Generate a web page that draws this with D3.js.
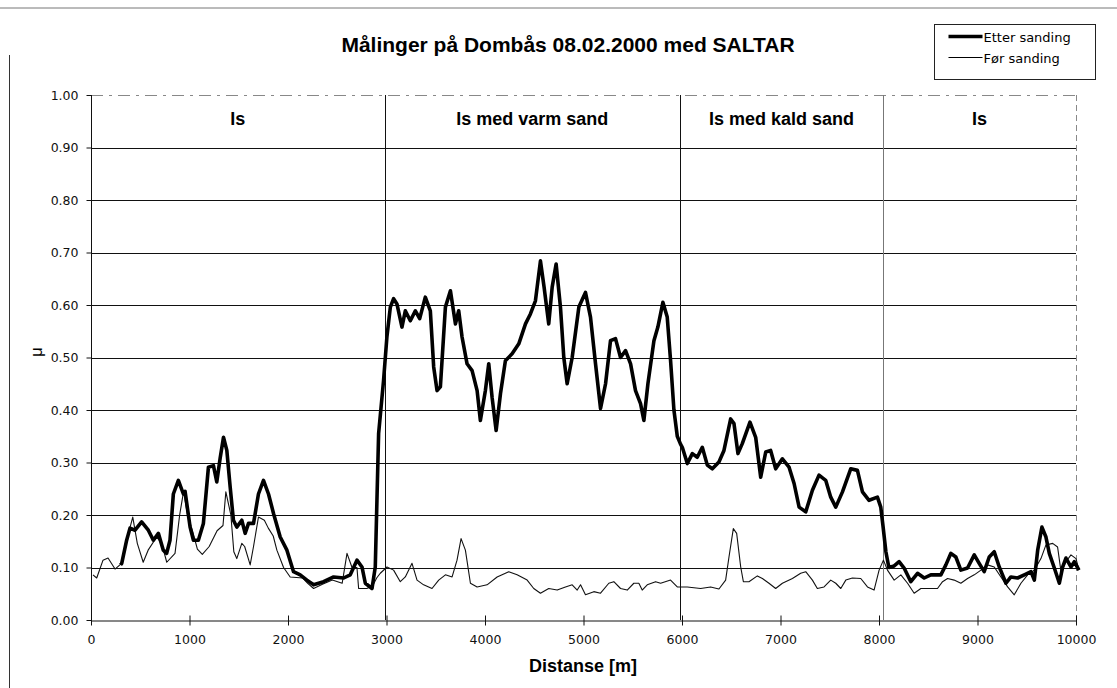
<!DOCTYPE html>
<html>
<head>
<meta charset="utf-8">
<script src="https://cdn.jsdelivr.net/npm/d3@7"></script>
<style>
  body { margin: 0; background: #fff; }
  svg { font-family: "Liberation Sans", Arial, sans-serif; }
</style>
</head>
<body>
<div id="chart"></div>
<script>
const WIDTH = 1117;
const HEIGHT = 688;

const title = "Målinger på Dombås 08.02.2000 med SALTAR";
const xLabel = "Distanse [m]";
const yLabel = "μ";
const seriesNames = ["Etter sanding", "Før sanding"];

const xTicks = [0, 1000, 2000, 3000, 4000, 5000, 6000, 7000, 8000, 9000, 10000];
const yTicks = [0, 0.1, 0.2, 0.3, 0.4, 0.5, 0.6, 0.7, 0.8, 0.9, 1.0];

// section boundaries (m) and their labels
const sectionEdges = [0, 2980, 5980, 8040, 10000];
const sectionLabels = ["Is", "Is med varm sand", "Is med kald sand", "Is"];

// Etter sanding (after sanding)
const etterDist = [300, 312, 362, 396, 447, 514, 582, 633, 684, 734, 768, 802, 836, 887, 938, 955, 1006, 1040, 1090, 1141,
  1192, 1243, 1277, 1311, 1345, 1379, 1413, 1446, 1480, 1531, 1565, 1599, 1650, 1700, 1751, 1802, 1853, 1921, 1989, 2056,
  2124, 2192, 2260, 2361, 2463, 2565, 2632, 2700, 2751, 2785, 2853, 2886, 2903, 2920, 2970, 3004, 3039, 3072, 3106, 3157,
  3191, 3242, 3293, 3337, 3394, 3445, 3479, 3513, 3547, 3598, 3649, 3700, 3733, 3767, 3818, 3869, 3920, 3953, 4004, 4038,
  4072, 4113, 4157, 4207, 4275, 4343, 4411, 4461, 4512, 4563, 4600, 4647, 4682, 4722, 4766, 4800, 4834, 4885, 4953, 5020,
  5071, 5122, 5173, 5224, 5274, 5325, 5376, 5427, 5478, 5528, 5579, 5613, 5654, 5715, 5755, 5806, 5850, 5884, 5918, 5952,
  5985, 6003, 6054, 6105, 6155, 6206, 6257, 6308, 6375, 6426, 6494, 6528, 6568, 6612, 6690, 6748, 6799, 6850, 6900, 6951,
  7019, 7087, 7138, 7189, 7256, 7324, 7391, 7459, 7510, 7561, 7629, 7713, 7781, 7832, 7899, 7984, 8018, 8040, 8070, 8100,
  8154, 8204, 8255, 8323, 8391, 8459, 8526, 8628, 8679, 8730, 8780, 8831, 8899, 8967, 9017, 9068, 9119, 9170, 9221, 9289,
  9339, 9407, 9475, 9543, 9577, 9611, 9654, 9695, 9729, 9780, 9831, 9865, 9898, 9949, 9983, 10030];
const etterMu = [0.105, 0.108, 0.152, 0.175, 0.171, 0.187, 0.171, 0.152, 0.165, 0.133, 0.127, 0.152, 0.240, 0.266, 0.240, 0.245, 0.177, 0.152, 0.152, 0.184,
  0.291, 0.294, 0.263, 0.308, 0.348, 0.323, 0.253, 0.190, 0.177, 0.190, 0.165, 0.184, 0.184, 0.240, 0.266, 0.240, 0.203, 0.158, 0.133, 0.092,
  0.086, 0.076, 0.067, 0.073, 0.082, 0.080, 0.086, 0.114, 0.101, 0.070, 0.060, 0.101, 0.228, 0.355, 0.456, 0.539, 0.596, 0.612, 0.602, 0.558,
  0.589, 0.570, 0.589, 0.574, 0.615, 0.589, 0.482, 0.437, 0.444, 0.596, 0.627, 0.564, 0.589, 0.539, 0.488, 0.475, 0.437, 0.380, 0.437, 0.488,
  0.424, 0.361, 0.431, 0.494, 0.507, 0.526, 0.564, 0.583, 0.608, 0.684, 0.634, 0.564, 0.634, 0.678, 0.596, 0.500, 0.450, 0.500, 0.596, 0.624,
  0.577, 0.488, 0.403, 0.450, 0.532, 0.536, 0.500, 0.513, 0.488, 0.437, 0.412, 0.380, 0.450, 0.532, 0.558, 0.605, 0.577, 0.494, 0.400, 0.350,
  0.335, 0.329, 0.298, 0.317, 0.310, 0.329, 0.295, 0.288, 0.301, 0.323, 0.383, 0.374, 0.317, 0.336, 0.377, 0.348, 0.272, 0.320, 0.323, 0.288,
  0.307, 0.291, 0.260, 0.215, 0.206, 0.247, 0.276, 0.266, 0.234, 0.215, 0.244, 0.288, 0.285, 0.244, 0.228, 0.234, 0.215, 0.180, 0.130, 0.100,
  0.103, 0.111, 0.099, 0.073, 0.089, 0.080, 0.086, 0.086, 0.105, 0.127, 0.120, 0.095, 0.099, 0.124, 0.108, 0.092, 0.120, 0.130, 0.101, 0.070,
  0.082, 0.080, 0.086, 0.092, 0.076, 0.133, 0.177, 0.158, 0.127, 0.099, 0.070, 0.101, 0.118, 0.101, 0.111, 0.095];

// Før sanding (before sanding)
const forDist = [20, 58, 122, 173, 244, 311, 362, 424, 470, 530, 580, 667, 718, 769, 853, 900, 940, 980, 1030, 1080,
  1130, 1200, 1280, 1340, 1369, 1420, 1450, 1480, 1531, 1560, 1616, 1650, 1700, 1760, 1800, 1850, 1887, 1955, 2022, 2150,
  2200, 2260, 2350, 2450, 2550, 2599, 2650, 2700, 2717, 2800, 2860, 2900, 2937, 3005, 3072, 3140, 3191, 3259, 3310, 3377,
  3462, 3530, 3598, 3666, 3716, 3757, 3801, 3852, 3920, 4021, 4123, 4241, 4326, 4428, 4495, 4563, 4647, 4733, 4817, 4885,
  4936, 4970, 5020, 5105, 5173, 5257, 5308, 5376, 5444, 5511, 5562, 5596, 5647, 5732, 5783, 5884, 5952, 6054, 6189, 6291,
  6375, 6443, 6477, 6521, 6555, 6596, 6623, 6680, 6765, 6816, 6883, 6951, 7019, 7121, 7205, 7256, 7324, 7374, 7442, 7510,
  7561, 7612, 7663, 7730, 7815, 7883, 7950, 8001, 8045, 8086, 8154, 8222, 8290, 8357, 8425, 8492, 8594, 8645, 8696, 8763,
  8831, 8899, 8967, 9035, 9102, 9170, 9238, 9306, 9373, 9441, 9509, 9577, 9644, 9695, 9763, 9813, 9848, 9898, 9949, 10000, 10030];
const forMu = [0.086, 0.080, 0.114, 0.118, 0.097, 0.108, 0.152, 0.196, 0.146, 0.110, 0.133, 0.158, 0.146, 0.110, 0.127, 0.200, 0.245, 0.200, 0.170, 0.135,
  0.125, 0.140, 0.170, 0.180, 0.244, 0.200, 0.130, 0.117, 0.146, 0.140, 0.105, 0.140, 0.196, 0.190, 0.175, 0.160, 0.133, 0.100, 0.082, 0.080,
  0.070, 0.060, 0.068, 0.076, 0.070, 0.127, 0.100, 0.100, 0.060, 0.060, 0.065, 0.080, 0.089, 0.101, 0.095, 0.073, 0.082, 0.108, 0.076, 0.067,
  0.060, 0.076, 0.086, 0.082, 0.114, 0.155, 0.133, 0.070, 0.063, 0.067, 0.082, 0.092, 0.086, 0.076, 0.060, 0.051, 0.060, 0.057, 0.063, 0.067,
  0.057, 0.067, 0.048, 0.054, 0.051, 0.070, 0.073, 0.060, 0.057, 0.070, 0.070, 0.057, 0.067, 0.073, 0.070, 0.076, 0.063, 0.063, 0.060, 0.063,
  0.059, 0.076, 0.120, 0.174, 0.165, 0.101, 0.073, 0.073, 0.084, 0.079, 0.070, 0.060, 0.070, 0.079, 0.089, 0.092, 0.076, 0.060, 0.063, 0.076,
  0.070, 0.060, 0.076, 0.080, 0.079, 0.063, 0.057, 0.095, 0.114, 0.095, 0.076, 0.086, 0.070, 0.051, 0.060, 0.060, 0.060, 0.073, 0.079, 0.076,
  0.070, 0.079, 0.086, 0.095, 0.105, 0.101, 0.082, 0.063, 0.048, 0.070, 0.086, 0.095, 0.117, 0.143, 0.146, 0.139, 0.092, 0.111, 0.124, 0.117, 0.095];


const svg = d3.select("#chart").append("svg")
  .attr("width", WIDTH)
  .attr("height", HEIGHT);

// scanned page frame
svg.append("line").attr("x1", 0).attr("x2", WIDTH).attr("y1", 8).attr("y2", 8)
  .style("stroke", "#777").style("stroke-width", 1);
svg.append("line").attr("x1", 9.5).attr("x2", 9.5).attr("y1", 55).attr("y2", HEIGHT)
  .style("stroke", "#333").style("stroke-width", 1);

const x = d3.scaleLinear().domain([0, 10000]).range([91, 1076]);
const y = d3.scaleLinear().domain([0, 1]).range([620, 95]);

const g = svg.append("g");

// horizontal gridlines
g.selectAll(".grid")
  .data(yTicks.filter(d => d > 0 && d < 1))
  .enter().append("line")
  .attr("class", "grid")
  .attr("x1", x(0)).attr("x2", x(10000))
  .attr("y1", d => Math.round(y(d)) + 0.5).attr("y2", d => Math.round(y(d)) + 0.5)
  .style("stroke", "#111").style("stroke-width", 1);

// top and right edge of the plot (faint in the scan)
g.append("line")
  .attr("x1", x(0)).attr("x2", x(10000))
  .attr("y1", y(1) + 0.5).attr("y2", y(1) + 0.5)
  .style("stroke", "#888").style("stroke-dasharray", "12 6 3 6");
g.append("line")
  .attr("x1", x(10000) + 0.5).attr("x2", x(10000) + 0.5)
  .attr("y1", y(1)).attr("y2", y(0))
  .style("stroke", "#888").style("stroke-dasharray", "6 4");

// section dividers
g.selectAll(".divider")
  .data(sectionEdges.slice(1, -1))
  .enter().append("line")
  .attr("class", "divider")
  .attr("x1", d => Math.round(x(d)) + 0.5).attr("x2", d => Math.round(x(d)) + 0.5)
  .attr("y1", y(1)).attr("y2", y(0))
  .style("stroke", (d, i) => i === 2 ? "#777" : "#111")
  .style("stroke-width", 1);

g.selectAll(".section")
  .data(sectionLabels)
  .enter().append("text")
  .attr("class", "section")
  .attr("x", (d, i) => (x(sectionEdges[i]) + x(sectionEdges[i + 1])) / 2)
  .attr("y", 125)
  .attr("text-anchor", "middle")
  .style("font-size", "18px")
  .style("font-weight", "bold")
  .text(d => d);

// axes
const yAxis = d3.axisLeft(y)
  .tickValues(yTicks)
  .tickFormat(d3.format(".2f"))
  .tickSize(5)
  .tickPadding(8);
const yg = g.append("g")
  .attr("transform", `translate(${x(0) + 0.5},0)`)
  .call(yAxis);
yg.select(".domain").attr("d", `M0,${y(1)}V${y(0)}`);

const xAxis = d3.axisBottom(x)
  .tickValues(xTicks)
  .tickFormat(d3.format("d"))
  .tickSizeInner(4)
  .tickSizeOuter(0)
  .tickPadding(11);
const xg = g.append("g")
  .attr("transform", `translate(0,${Math.round(y(0)) + 0.5})`)
  .call(xAxis);
xg.selectAll(".tick line").attr("y1", -5).attr("y2", 5);
xg.select(".domain").style("stroke", "#333");

[yg, xg].forEach(ax => {
  ax.selectAll("text")
    .style("font-family", "'DejaVu Sans', sans-serif")
    .style("font-size", "12.5px")
    .style("fill", "#111");
  ax.selectAll("line, path").style("stroke", "#111");
});

// series
const line = d3.line()
  .x(d => x(d[0]))
  .y(d => y(d[1]));

g.append("path")
  .datum(d3.zip(forDist, forMu))
  .attr("d", line)
  .style("fill", "none")
  .style("stroke", "#111")
  .style("stroke-width", 1.1)
  .style("stroke-linejoin", "round");

g.append("path")
  .datum(d3.zip(etterDist, etterMu))
  .attr("d", line)
  .style("fill", "none")
  .style("stroke", "#000")
  .style("stroke-width", 3.6)
  .style("stroke-linejoin", "round");

// title and axis labels
svg.append("text")
  .attr("x", 568).attr("y", 52)
  .attr("text-anchor", "middle")
  .style("font-size", "21px")
  .style("font-weight", "bold")
  .text(title);

svg.append("text")
  .attr("x", 583).attr("y", 672)
  .attr("text-anchor", "middle")
  .style("font-size", "18px")
  .style("font-weight", "bold")
  .text(xLabel);

svg.append("text")
  .attr("transform", "translate(42,352) rotate(-90)")
  .attr("text-anchor", "middle")
  .style("font-size", "17px")
  .text(yLabel);

// legend
const legend = svg.append("g").attr("transform", "translate(934.5,24.5)");
legend.append("rect")
  .attr("width", 161).attr("height", 55)
  .style("fill", "#fff").style("stroke", "#222");

legend.selectAll(".entry")
  .data(seriesNames)
  .enter().append("g")
  .attr("class", "entry")
  .attr("transform", (d, i) => `translate(0,${12 + i * 21})`)
  .each(function (d, i) {
    const e = d3.select(this);
    e.append("line")
      .attr("x1", 14).attr("x2", 48)
      .style("stroke", "#000")
      .style("stroke-width", i === 0 ? 3.5 : 1.1);
    e.append("text")
      .attr("x", 49).attr("y", 5)
      .style("font-family", "'DejaVu Sans', sans-serif")
      .style("font-size", "13px")
      .text(d);
  });
</script>
</body>
</html>
